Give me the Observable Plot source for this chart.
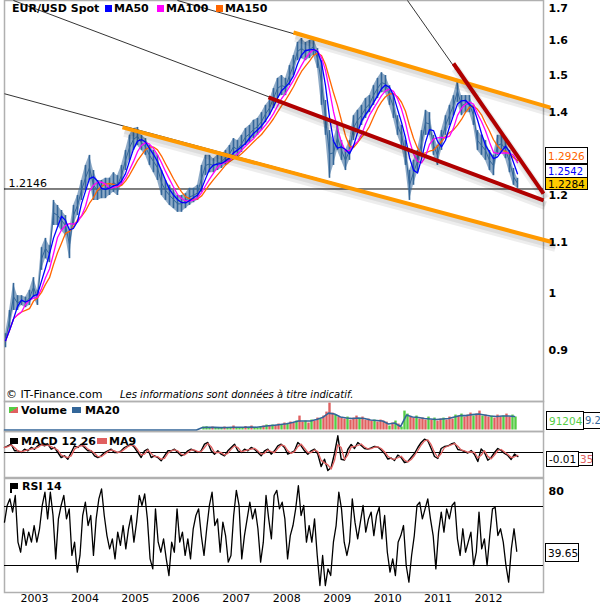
<!DOCTYPE html>
<html><head><meta charset="utf-8">
<script src="https://cdn.jsdelivr.net/npm/d3@7"></script>
<script src="https://cdn.jsdelivr.net/npm/@observablehq/plot@0.6"></script>
<style>
body{margin:0;background:#fff;}
#c{position:relative;width:600px;height:609px;overflow:hidden;font-family:"DejaVu Sans",Verdana,sans-serif;color:#000;background:#fff;}
#c svg{position:absolute;left:0;overflow:visible;font-family:"DejaVu Sans",Verdana,sans-serif;}
.t{position:absolute;font-size:11px;line-height:13px;white-space:nowrap;}
.b{font-weight:bold;}
.sq{position:absolute;}
.box{position:absolute;border:1px solid #000;background:#fff;font-size:10.5px;box-sizing:border-box;display:flex;align-items:center;padding-left:2px;white-space:nowrap;overflow:hidden;}
</style></head><body><div id="c"></div><script>
// ---------- data ----------
const xDomain = [2002.407, 2013.089];
const yearTicks = [2003, 2004, 2005, 2006, 2007, 2008, 2009, 2010, 2011, 2012];
const priceTicks = [0.9, 1, 1.1, 1.2, 1.4, 1.5, 1.6, 1.7];
const refLevel = [1.2146];

const priceStart = 2002.427, priceStep = 0.07927;
const priceHi = [.928,.969,1.019,.996,.996,.993,1.006,1.030,1.006,1.089,
1.108,1.093,1.189,1.178,1.167,1.156,1.124,1.178,1.200,1.234,
1.269,1.293,1.257,1.234,1.234,1.239,1.239,1.252,1.245,1.269,
1.305,1.342,1.359,1.362,1.342,1.334,1.317,1.305,1.293,1.257,
1.234,1.223,1.211,1.200,1.200,1.204,1.216,1.216,1.223,1.269,
1.293,1.293,1.285,1.293,1.293,1.305,1.317,1.334,1.329,1.342,
1.359,1.367,1.380,1.385,1.400,1.419,1.432,1.464,1.492,1.500,
1.492,1.528,1.557,1.595,1.607,1.595,1.601,1.607,1.577,1.542,
1.432,1.354,1.329,1.367,1.329,1.305,1.329,1.392,1.406,1.419,
1.437,1.445,1.472,1.492,1.508,1.500,1.472,1.445,1.392,1.367,
1.329,1.257,1.281,1.305,1.354,1.406,1.400,1.342,1.317,1.354,
1.392,1.419,1.445,1.486,1.445,1.445,1.445,1.419,1.354,1.342,
1.329,1.305,1.293,1.342,1.342,1.329,1.305,1.262,1.239];
const priceLo = [.904,.934,.969,.969,.978,.974,.978,.993,.978,1.044,
1.067,1.059,1.135,1.135,1.124,1.114,1.067,1.135,1.156,1.189,
1.211,1.234,1.189,1.189,1.193,1.193,1.200,1.207,1.200,1.223,
1.257,1.281,1.305,1.317,1.305,1.293,1.269,1.252,1.234,1.200,
1.189,1.178,1.171,1.163,1.163,1.171,1.178,1.184,1.189,1.207,
1.245,1.252,1.252,1.257,1.262,1.269,1.276,1.293,1.285,1.300,
1.317,1.324,1.334,1.342,1.354,1.374,1.392,1.411,1.437,1.445,
1.445,1.472,1.500,1.542,1.548,1.542,1.548,1.557,1.520,1.419,
1.342,1.239,1.269,1.305,1.281,1.257,1.281,1.329,1.354,1.367,
1.385,1.400,1.419,1.437,1.453,1.453,1.419,1.385,1.342,1.317,
1.269,1.189,1.223,1.252,1.293,1.342,1.342,1.293,1.269,1.305,
1.342,1.367,1.392,1.427,1.392,1.400,1.400,1.367,1.305,1.293,
1.281,1.257,1.245,1.293,1.300,1.285,1.252,1.223,1.216];

// trend lines (year, price)
const trendOrange = [
  {t1: 2008.134, p1: 1.625, t2: 2013.227, p2: 1.413},
  {t1: 2004.745, p1: 1.362, t2: 2013.287, p2: 1.0995}
];
const trendRed = [
  {t1: 2007.639, p1: 1.440, t2: 2013.089, p2: 1.189},
  {t1: 2011.305, p1: 1.534, t2: 2013.089, p2: 1.204}
];
const trendBlack = [
  {t1: 2002.585, p1: 1.7247, t2: 2013.089, p2: 1.189},
  {t1: 2005.835, p1: 1.7247, t2: 2013.188, p2: 1.416},
  {t1: 2002.407, p1: 1.450, t2: 2013.287, p2: 1.0995},
  {t1: 2010.394, p1: 1.7247, t2: 2013.089, p2: 1.204}
];

// volume
const volStart = 2006.351, volStep = 0.05945;
const volume = [21000,23100,17500,21000,14000,17500,14000,21000,14000,17500,
28000,14000,17500,14000,24500,14000,28000,17500,14000,21000,
28000,35000,28000,35000,31500,42000,35000,49000,42000,56000,
49000,63000,98000,56000,63000,49000,70000,63000,84000,77000,
98000,126000,189000,119000,105000,91000,84000,77000,91000,70000,
84000,98000,77000,91000,70000,77000,63000,70000,56000,70000,
63000,56000,28000,49000,63000,42000,21000,133000,112000,91000,
84000,98000,77000,84000,70000,91000,70000,84000,63000,77000,
84000,70000,91000,77000,105000,98000,112000,91000,105000,119000,
98000,112000,133000,98000,105000,91000,98000,84000,105000,91000,
98000,112000,91000,105000,91204];
const volColor = "gggrgggrggrgggrgrggg" + "rgrgrrgrgrrgrrgrgrrg" + "rrrrgrrrgrrrgrrrrgrr" + "rrgrgrgggrrgrrrgrgrr" + "grrrgrgrrrgrrgrrgrrrgrrgg";
const ma20Start = 2002.407, ma20Step = 0.11891;
const volMA20 = [0,0,0,0,0,0,0,0,0,0,0,0,0,0,0,0,0,0,0,0,0,0,0,0,0,0,0,0,0,0,0,0,0,
17500,19600,18200,16800,17500,19600,18900,19600,21000,19600,
24500,29400,33600,38500,44100,52500,63000,63000,63000,73500,
87500,119000,112000,91000,84000,80500,84000,80500,70000,66500,
63000,42000,49000,24500,105000,91000,87500,80500,77000,73500,
77000,80500,91000,101500,101500,108500,112000,105000,98000,94500,
98000,98000,94500];

// MACD 12 26
const macdStart = 2002.407, macdStep = 0.06606;
const macd = [0.0125,0.0168,0.0208,0.0043,0.0043,0,0.0083,0.0043,0.0125,0.0083,
0.0168,0.0208,0.0168,0.0208,0.0083,0.0125,0,-0.0125,-0.0083,-0.0168,
0,0.0168,0.0125,0.0208,0.0125,0.0043,0.0043,-0.0083,-0.0125,-0.0083,
0,0.0043,0.0083,0,0,0.0043,0.0125,0.0168,0.0208,0.0125,
0,-0.0125,0.0043,0.0083,-0.0125,-0.0083,-0.0125,-0.0208,-0.0083,0.0043,
0.0043,0.0083,0,-0.0083,-0.0043,0.0043,0.0083,0.0043,0,0.0043,
0.0208,0.025,0.0043,-0.0043,0.0043,-0.0043,-0.0083,0.0043,0.0125,0.0208,
0.0043,0,0.0083,0.0043,0.0125,0.0083,0,-0.0083,0.0043,0.0083,
-0.0043,0.0043,0.0168,0.0208,0.0125,-0.0043,0,0.0043,0.025,0.0168,
0.0043,-0.0043,0.0043,0.0083,-0.0043,-0.035,-0.0168,-0.045,-0.0375,-0.0025,
0.0418,-0.0168,-0.0188,0.0075,0.02,0.01,0.025,0.0175,0.01,0.0083,
0.0113,0.015,0.0138,0.0063,-0.0025,-0.0163,-0.0138,-0.02,-0.0063,-0.0125,
-0.025,-0.0225,-0.0125,-0.0025,0.0125,0.025,0.0333,0.0293,0.01,-0.01,
-0.015,0.01,0.015,0.0163,0.0213,0.0238,0.0075,0.0058,0.0025,-0.0013,
0.005,-0.005,-0.0225,0.0088,0,-0.0193,-0.0125,0,0.01,0.005,
-0.0025,-0.0075,-0.0175,-0.0038,-0.01];

// RSI 14
const rsiStart = 2002.407, rsiStep = 0.05343;
const rsi = [59.4,70.7,75.2,66.2,77.5,45.8,39.0,54.9,43.6,52.6,
45.8,57.1,45.8,54.9,70.7,79.7,61.6,79.7,63.9,34.5,
61.6,70.7,77.5,61.6,68.4,36.8,45.8,25.5,36.8,63.9,
72.9,57.1,63.9,36.8,61.6,75.2,82.0,63.9,50.3,41.3,
48.1,34.5,52.6,43.6,57.1,41.3,54.9,63.9,45.8,59.4,
77.5,70.7,78.6,61.6,34.5,27.7,68.4,45.8,39.0,48.1,
34.5,23.2,45.8,39.0,68.4,45.8,52.6,36.8,48.1,34.5,
54.9,63.9,68.4,50.3,36.8,54.9,70.7,79.7,57.1,61.6,
39.0,59.4,50.3,32.3,36.8,63.9,80.9,70.7,34.5,50.3,
61.6,72.9,61.6,68.4,54.9,32.3,45.8,77.5,61.6,48.1,
77.5,80.9,68.4,72.9,61.6,34.5,50.3,57.1,68.4,84.2,
63.9,70.7,45.8,57.1,45.8,61.6,36.8,16.4,36.8,16.4,
27.7,23.2,45.8,57.1,79.7,68.4,45.8,36.8,45.8,75.2,
59.4,48.1,59.4,70.7,52.6,61.6,66.2,50.3,63.9,69.5,
48.1,63.9,39.0,25.5,34.5,23.2,45.8,50.3,57.1,30.0,
18.7,36.8,50.3,70.7,72.9,61.6,68.4,75.2,61.6,50.3,
27.7,52.6,66.2,52.6,68.4,61.6,70.7,72.9,48.1,36.8,
54.9,39.0,45.8,52.6,30.0,39.0,66.2,41.3,48.1,30.0,
50.3,68.4,69.5,50.3,54.9,45.8,30.0,18.7,41.3,54.9,
39.65];
const rsiLevels = [30, 70];
const rsiTicks = [80];

// last-value labels
const lastLabels = {ma150: "1.2926", ma50: "1.2542", spot: "1.2284", vol: "91204", volMA: "9.2", macd: "-0.01", macdMA: "35", rsi: "39.65"};

// ---------- build ----------
const price = priceHi.map((hi, i) => ({t: priceStart + i * priceStep, hi, lo: priceLo[i], mid: (hi + priceLo[i]) / 2}));
const vol = volume.map((v, i) => ({t: volStart + i * volStep, v, c: volColor[i]}));
const ma20 = volMA20.map((v, i) => ({t: ma20Start + i * ma20Step, v}));
const mac = macd.map((v, i) => ({t: macdStart + i * macdStep, v}));
const rs = rsi.map((v, i) => ({t: rsiStart + i * rsiStep, v}));

const C = document.getElementById("c");
const common = {width: 600, marginLeft: 4, marginRight: 57, x: {domain: xDomain, axis: null}, style: {background: "transparent", overflow: "visible", fontSize: "11px"}};
const frameStroke = "#b0b0b0";
const lk = {x1: "t1", y1: "p1", x2: "t2", y2: "p2"};
const spot = "#336699";

function place(svg, top) { svg.style.top = top + "px"; C.appendChild(svg); }

const main = Plot.plot({
  ...common, height: 402, marginTop: 0, marginBottom: 1,
  y: {type: "log", domain: [0.818, 1.7247], axis: null},
  marks: [
    Plot.frame({stroke: frameStroke, strokeWidth: 1.5}),
    Plot.ruleY(refLevel, {stroke: "#000", strokeWidth: 1}),
    Plot.text(refLevel, {y: d => d, frameAnchor: "left", dx: 4, dy: -6, textAnchor: "start", text: d => String(d), fontSize: 11, fill: "#000"}),
    Plot.areaY(price, {x: "t", y1: "lo", y2: "hi", fill: spot, fillOpacity: 0.55}),
    Plot.ruleX(price, {x: "t", y1: "lo", y2: "hi", stroke: spot, strokeWidth: 1.6}),
    Plot.lineY(price, {x: "t", y: "mid", stroke: spot, strokeWidth: 1}),
    Plot.lineY(price, Plot.windowY({k: 7, anchor: "end", reduce: "mean"}, {x: "t", y: "mid", stroke: "#ff6600", strokeWidth: 1.3})),
    Plot.lineY(price, Plot.windowY({k: 5, anchor: "end", reduce: "mean"}, {x: "t", y: "mid", stroke: "#ff00ff", strokeWidth: 1.3})),
    Plot.lineY(price, Plot.windowY({k: 3, anchor: "end", reduce: "mean"}, {x: "t", y: "mid", stroke: "#0000ff", strokeWidth: 1.3})),
    Plot.link(trendBlack, {...lk, stroke: "#000", strokeWidth: 0.8}),
    Plot.link(trendOrange, {...lk, stroke: "#000", strokeOpacity: 0.07, strokeWidth: 9, dx: 2, dy: 5}),
    Plot.link(trendRed, {...lk, stroke: "#000", strokeOpacity: 0.07, strokeWidth: 9, dx: 2, dy: 5}),
    Plot.link(trendOrange, {...lk, stroke: "#000", strokeOpacity: 0.07, strokeWidth: 5, dx: 2, dy: 4}),
    Plot.link(trendRed, {...lk, stroke: "#000", strokeOpacity: 0.07, strokeWidth: 5, dx: 2, dy: 4}),
    Plot.link(trendOrange, {...lk, stroke: "#ff9900", strokeWidth: 4}),
    Plot.link(trendRed, {...lk, stroke: "#b00000", strokeWidth: 4}),
    Plot.text(priceTicks, {y: d => d, frameAnchor: "right", dx: 5, textAnchor: "start", text: d => String(d), fontWeight: "bold", fontSize: 11, fill: "#000"})
  ]
});
place(main, 0);

const volPlot = Plot.plot({
  ...common, height: 31, marginTop: 0, marginBottom: 1,
  y: {domain: [0, 190000], range: [28.5, 1.5], axis: null},
  marks: [
    Plot.frame({stroke: frameStroke, strokeWidth: 1.5}),
    Plot.ruleX(vol, {filter: d => d.c === "g", x: "t", y1: 0, y2: "v", stroke: "#55cc44", strokeWidth: 2.4}),
    Plot.ruleX(vol, {filter: d => d.c === "r", x: "t", y1: 0, y2: "v", stroke: "#e06060", strokeWidth: 2.4}),
    Plot.lineY(ma20, {x: "t", y: "v", stroke: spot, strokeWidth: 1.6})
  ]
});
place(volPlot, 401);

const macdPlot = Plot.plot({
  ...common, height: 47, marginTop: 0, marginBottom: 1,
  y: {domain: [-0.06, 0.05], range: [45, 1], axis: null},
  marks: [
    Plot.frame({stroke: frameStroke, strokeWidth: 1.5}),
    Plot.ruleY([0], {stroke: "#000", strokeWidth: 1.2}),
    Plot.lineY(mac, {x: "t", y: "v", stroke: "#000", strokeWidth: 1.4}),
    Plot.lineY(mac, Plot.windowY({k: 2, anchor: "end", reduce: "mean"}, {x: "t", y: "v", stroke: "#e06060", strokeWidth: 1.3}))
  ]
});
place(macdPlot, 431);

const rsiPlot = Plot.plot({
  ...common, height: 131, marginTop: 0, marginBottom: 17,
  y: {domain: [0, 100], range: [131.25, -16.25], axis: null},
  marks: [
    Plot.frame({stroke: frameStroke, strokeWidth: 1.5}),
    Plot.ruleY(rsiLevels, {stroke: "#000", strokeWidth: 1.2}),
    Plot.lineY(rs, {x: "t", y: "v", stroke: "#000", strokeWidth: 1.3}),
    Plot.text(rsiTicks, {y: d => d, frameAnchor: "right", dx: 5, textAnchor: "start", text: d => String(d), fontWeight: "bold", fontSize: 11, fill: "#000"}),
    Plot.text(yearTicks, {x: d => d, frameAnchor: "bottom", dy: 9, text: d => String(d), fontSize: 11, fill: "#000"})
  ]
});
place(rsiPlot, 478);

// ---------- legends & labels (HTML) ----------
function txt(s, left, top, cls, extra) {
  const d = document.createElement("div");
  d.className = "t " + (cls || "");
  d.textContent = s; d.style.left = left + "px"; d.style.top = top + "px";
  if (extra) Object.assign(d.style, extra);
  C.appendChild(d); return d;
}
function sq(left, top, w, h, bg) {
  const d = document.createElement("div");
  d.className = "sq"; Object.assign(d.style, {left: left + "px", top: top + "px", width: w + "px", height: h + "px", background: bg});
  C.appendChild(d); return d;
}
function box(s, left, top, w, h, color, bg, extra) {
  const d = document.createElement("div");
  d.className = "box"; d.textContent = s;
  Object.assign(d.style, {left: left + "px", top: top + "px", width: w + "px", height: h + "px", color, background: bg || "#fff"});
  if (extra) Object.assign(d.style, extra);
  C.appendChild(d); return d;
}

// main legend
txt("EUR/USD Spot", 12, 1.5, "b");
sq(105, 5, 7, 7, "#0000ff"); txt("MA50", 114, 1.5, "b");
sq(157, 5, 7, 7, "#ff00ff"); txt("MA100", 166, 1.5, "b");
sq(216, 5, 7, 7, "#ff6600"); txt("MA150", 225, 1.5, "b");
// caption
txt("© IT-Finance.com", 6, 387.5, "");
txt("Les informations sont données à titre indicatif.", 120, 387.5, "", {fontStyle: "italic", fontSize: "10px"});
// volume legend
sq(9, 407, 9, 6, "linear-gradient(to bottom right, #55cc44 50%, #e06060 50%)");
txt("Volume", 21, 404, "b");
sq(72, 407, 9, 6, spot); txt("MA20", 85, 404, "b");
// MACD legend
sq(10, 438, 8, 6, "#000"); txt("MACD 12 26", 21, 434.5, "b");
sq(97, 438, 10, 6, "#e06060"); txt("MA9", 109, 434.5, "b");
// RSI legend
sq(10, 483, 8, 6, "#000"); sq(10, 483, 1.5, 10, "#000"); txt("RSI 14", 22, 480, "b");

// right-side value boxes
box(lastLabels.ma150, 545, 147, 43, 17, "#ff6600");
box(lastLabels.ma50, 545, 164, 43, 14, "#0000ff", "#fff", {fontSize: "10px", lineHeight: "11px"});
box(lastLabels.spot, 545, 177, 43, 13, "#000", "#ffcc00");
box(lastLabels.volMA, 583, 412, 17, 17, spot, "#fff", {paddingLeft: "1px", fontSize: "10px", borderRight: "none"});
box(lastLabels.vol, 546, 411, 38, 19, "#55cc44");
box(lastLabels.macdMA, 578, 452, 15, 14, "#e06060", "#fff", {paddingLeft: "1px"});
box(lastLabels.macd, 546, 451, 33, 16, "#000");
box(lastLabels.rsi, 545, 543, 34, 19, "#000");
</script></body></html>
